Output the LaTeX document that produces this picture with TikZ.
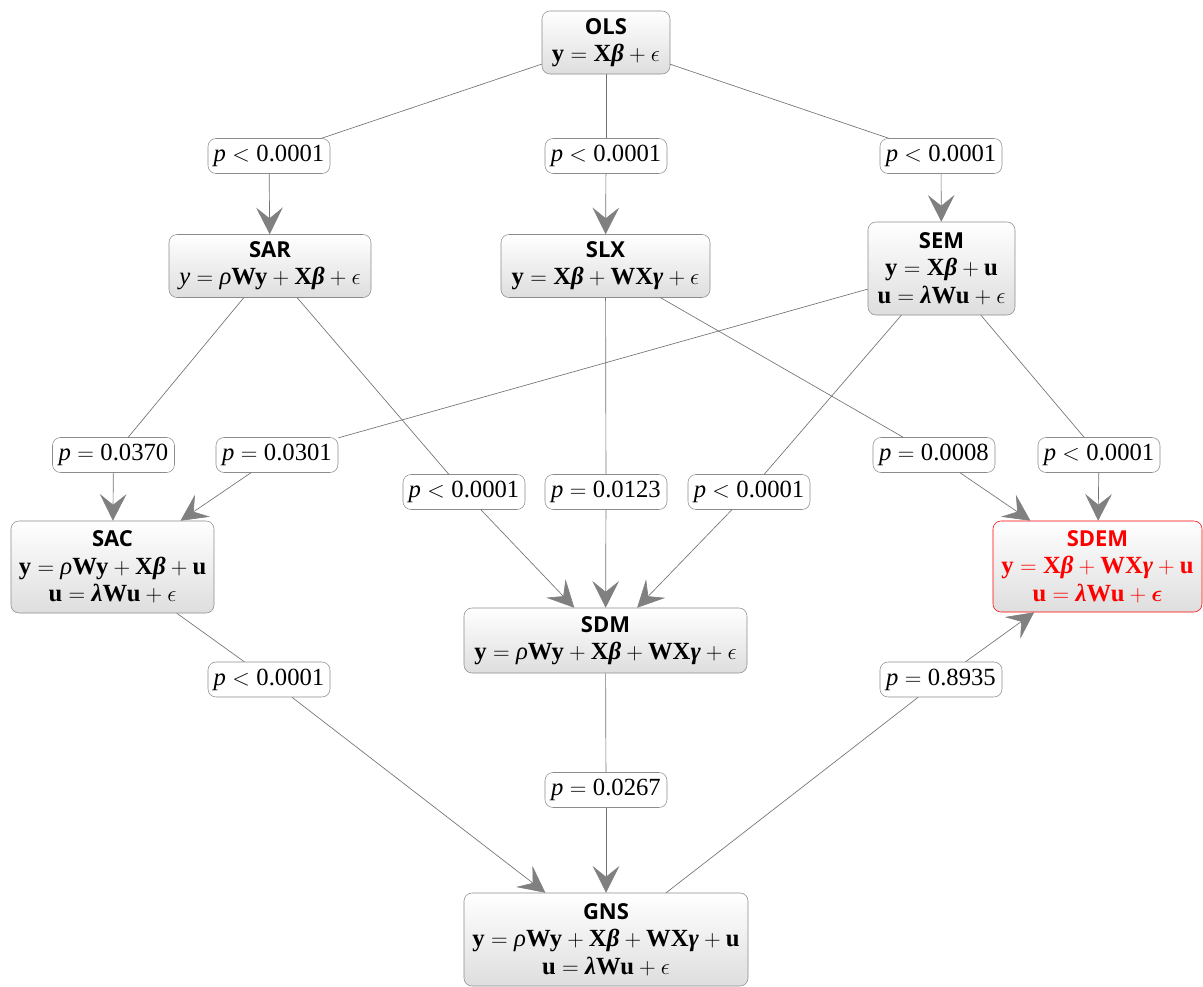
\documentclass[tikz,border=0pt]{standalone}
\usepackage{amsmath}
\usepackage{fontspec}
\setmainfont{Liberation Serif}
\newfontfamily\titlefont{Open Sans}
\usetikzlibrary{arrows.meta}
\newcommand{\tf}[1]{{\titlefont\bfseries\fontsize{16.5}{20}\selectfont #1}}
\newcommand{\B}[1]{\textbf{#1}}
\newcommand{\BI}[1]{\textbf{\textit{#1}}}
\newcommand{\I}[1]{\textit{#1}}
\begin{document}
\begin{tikzpicture}[x=0.75pt,y=-0.75pt,
  model/.style={draw=black!45, rounded corners=6pt, top color=white, bottom color=black!13,
    align=center, inner sep=1pt, font=\fontsize{18.5}{20.5}\selectfont},
  redmodel/.style={model, draw=red, text=red},
  plabel/.style={draw=black!45, fill=white, rounded corners=6pt, minimum width=91.5pt,
    minimum height=26.25pt, inner sep=1pt, font=\fontsize{18.5}{21}\selectfont},
  conn/.style={draw=black!55, line width=0.5pt},
  arr/.style={conn, -{Stealth[length=20pt,width=20pt,inset=8pt,color=black!50]}}]
\useasboundingbox (0,0) rectangle (1203,986);
% models
\node[model, minimum width=96pt, minimum height=47.25pt] (ols) at (606,42.5)
  {\tf{OLS}\\ $\B{y}=\B{X}\BI{β}+\epsilon$};
\node[model, minimum width=151.5pt, minimum height=47.25pt] (sar) at (270,266)
  {\tf{SAR}\\ $\I{y}=\I{ρ}\B{Wy}+\B{X}\BI{β}+\epsilon$};
\node[model, minimum width=156.75pt, minimum height=47.25pt] (slx) at (605.5,266)
  {\tf{SLX}\\ $\B{y}=\B{X}\BI{β}+\B{WX}\BI{γ}+\epsilon$};
\node[model, minimum width=110.25pt, minimum height=69.75pt] (sem) at (941.5,268.5)
  {\tf{SEM}\\ $\B{y}=\B{X}\BI{β}+\B{u}$\\ $\B{u}=\BI{λ}\B{Wu}+\epsilon$};
\node[model, minimum width=152.25pt, minimum height=69pt] (sac) at (112.5,567)
  {\tf{SAC}\\ $\B{y}=\I{ρ}\B{Wy}+\B{X}\BI{β}+\B{u}$\\ $\B{u}=\BI{λ}\B{Wu}+\epsilon$};
\node[model, minimum width=212.25pt, minimum height=48.75pt] (sdm) at (605.5,640.5)
  {\tf{SDM}\\ $\B{y}=\I{ρ}\B{Wy}+\B{X}\BI{β}+\B{WX}\BI{γ}+\epsilon$};
\node[redmodel, minimum width=156.75pt, minimum height=68.25pt] (sdem) at (1097.5,566.5)
  {\tf{SDEM}\\ $\B{y}=\B{X}\BI{β}+\B{WX}\BI{γ}+\B{u}$\\ $\B{u}=\BI{λ}\B{Wu}+\boldsymbol{\epsilon}$};
\node[model, minimum width=213pt, minimum height=69.75pt] (gns) at (606,939.5)
  {\tf{GNS}\\ $\B{y}=\I{ρ}\B{Wy}+\B{X}\BI{β}+\B{WX}\BI{γ}+\B{u}$\\ $\B{u}=\BI{λ}\B{Wu}+\epsilon$};
% labels
\node[plabel] (la) at (269,156) {$\I{p}<\text{0.0001}$};
\node[plabel] (lb) at (606,156) {$\I{p}<\text{0.0001}$};
\node[plabel] (lc) at (941,156) {$\I{p}<\text{0.0001}$};
\node[plabel] (ld) at (113.5,455) {$\I{p}=\text{0.0370}$};
\node[plabel] (le) at (277,455) {$\I{p}=\text{0.0301}$};
\node[plabel] (lf) at (464,492) {$\I{p}<\text{0.0001}$};
\node[plabel] (lg) at (606,492) {$\I{p}=\text{0.0123}$};
\node[plabel] (lh) at (749,492) {$\I{p}<\text{0.0001}$};
\node[plabel] (li) at (934,455) {$\I{p}=\text{0.0008}$};
\node[plabel] (lj) at (1099,455) {$\I{p}<\text{0.0001}$};
\node[plabel] (lk) at (269,679.5) {$\I{p}<\text{0.0001}$};
\node[plabel] (ll) at (941,679.5) {$\I{p}=\text{0.8935}$};
\node[plabel] (lm) at (606,790) {$\I{p}=\text{0.0267}$};
% connectors
\draw[conn] (ols) -- (la); \draw[arr] (la) -- (sar);
\draw[conn] (ols) -- (lb); \draw[arr] (lb) -- (slx);
\draw[conn] (ols) -- (lc); \draw[arr] (lc) -- (sem);
\draw[conn] (sar) -- (ld); \draw[arr] (ld) -- (sac);
\draw[conn] (sem) -- (le); \draw[arr] (le) -- (sac);
\draw[conn] (sar) -- (lf); \draw[arr] (lf) -- (sdm);
\draw[conn] (slx) -- (lg); \draw[arr] (lg) -- (sdm);
\draw[conn] (sem) -- (lh); \draw[arr] (lh) -- (sdm);
\draw[conn] (slx) -- (li); \draw[arr] (li) -- (sdem);
\draw[conn] (sem) -- (lj); \draw[arr] (lj) -- (sdem);
\draw[conn] (sac) -- (lk); \draw[arr] (lk) -- (gns);
\draw[conn] (gns) -- (ll); \draw[arr] (ll) -- (sdem);
\draw[conn] (sdm) -- (lm); \draw[arr] (lm) -- (gns);
\end{tikzpicture}
\end{document}
